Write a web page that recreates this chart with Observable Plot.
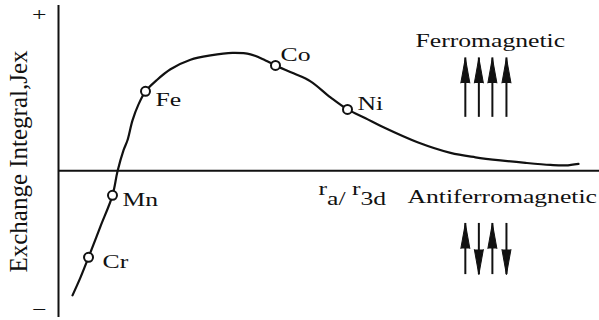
<!DOCTYPE html>
<html><head><meta charset="utf-8">
<script src="https://cdn.jsdelivr.net/npm/d3@7"></script>
<script src="https://cdn.jsdelivr.net/npm/@observablehq/plot@0.6"></script>
<style>body{margin:0;background:#fff}</style>
</head><body>
<script>
// Bethe–Slater curve (arbitrary units)
const curveX = [0.259, 0.407, 0.555, 0.776, 0.998, 1.091, 1.201, 1.275, 1.368, 1.479, 1.608, 1.811, 2.070, 2.440, 2.810, 3.216, 3.549, 3.826, 4.011, 4.344, 4.658, 5.028, 5.342, 5.675, 6.007, 6.636, 7.246, 7.708, 8.170, 8.632, 9.094, 9.372, 9.612];
const curveY = [-0.798, -0.683, -0.554, -0.356, -0.157, -0.003, 0.131, 0.196, 0.324, 0.426, 0.510, 0.580, 0.651, 0.712, 0.740, 0.756, 0.747, 0.708, 0.676, 0.625, 0.574, 0.471, 0.394, 0.337, 0.279, 0.183, 0.115, 0.087, 0.067, 0.051, 0.038, 0.035, 0.045];

const elements = ["Cr", "Mn", "Fe", "Co", "Ni"];
const elementX = [0.555, 0.998, 1.608, 4.011, 5.342];
const elementY = [-0.554, -0.157, 0.510, 0.676, 0.394];

const spinSiteX = [7.52, 7.77, 8.02, 8.28];
const ferroSpins = [1, 1, 1, 1];
const antiSpins = [1, -1, 1, -1];
const ferroSpan = [0.343, 0.724];
const antiSpan = [-0.665, -0.337];

const yTickValues = [1, -0.894];
const yTickLabels = ["+", "−"];
const yLabel = "Exchange Integral,Jex";
const ratioLabel = "ra/ r3d";
const ratioPos = [4.806, -0.157];
const regimeLabels = ["Ferromagnetic", "Antiferromagnetic"];
const regimeX = [6.599, 6.451];
const regimeY = [0.830, -0.170];

const ink = "#111";
const font = "'Liberation Serif', 'Times New Roman', serif";
const stretch = 1.35;

const curve = curveX.map((x, i) => ({x, y: curveY[i]}));
const points = elements.map((name, i) => ({name, x: elementX[i], y: elementY[i]}));
const arrows = [
  ...spinSiteX.map((x, i) => ({x, spin: ferroSpins[i], lo: ferroSpan[0], hi: ferroSpan[1]})),
  ...spinSiteX.map((x, i) => ({x, spin: antiSpins[i], lo: antiSpan[0], hi: antiSpan[1]}))
];
const regimes = regimeLabels.map((t, i) => ({t, x: regimeX[i], y: regimeY[i]}));

const labelOffsets = {Cr: [14, 5], Mn: [10, 5], Fe: [10, 9], Co: [5, -10], Ni: [10, -5]};

const plot = Plot.plot({
  width: 599,
  height: 320,
  marginLeft: 58,
  marginRight: 0,
  marginTop: 5,
  marginBottom: 3,
  style: {fontFamily: font, color: ink, background: "#fff"},
  x: {domain: [0, 10], axis: null},
  y: {domain: [-0.94, 1.06], axis: null},
  marks: [
    Plot.ruleY([0], {stroke: ink, strokeWidth: 2}),
    Plot.ruleX([0], {stroke: ink, strokeWidth: 2}),
    Plot.axisY(yTickValues, {
      tickSize: 0, tickPadding: 12, fontSize: 19, label: null,
      tickFormat: (d) => yTickLabels[yTickValues.indexOf(d)]
    }),
    Plot.text([yLabel], {frameAnchor: "left", dx: -40, rotate: -90, fontSize: 25, textAnchor: "middle", lineAnchor: "middle", fill: ink}),
    Plot.line(curve, {x: "x", y: "y", curve: "catmull-rom", stroke: ink, strokeWidth: 2.2}),
    Plot.dot(points, {x: "x", y: "y", r: 4.5, fill: "#fff", stroke: ink, strokeWidth: 2}),
    ...points.map((p) => Plot.text([p], {
      x: "x", y: "y", text: "name", textAnchor: "start", lineAnchor: "middle",
      dx: labelOffsets[p.name][0], dy: labelOffsets[p.name][1], fontSize: 19, fill: ink
    })),
    Plot.ruleX(arrows, {x: "x", y1: "lo", y2: (d) => d.hi, stroke: ink, strokeWidth: 2}),
    Plot.vector(arrows, {
      x: "x", y: (d) => d.spin > 0 ? d.hi : d.lo, rotate: (d) => d.spin > 0 ? 0 : 180,
      anchor: "end", shape: "spike", length: 25, r: 4.5, fill: ink, stroke: ink, strokeWidth: 1
    }),
    Plot.text(regimes, {x: "x", y: "y", text: "t", textAnchor: "start", lineAnchor: "middle", fontSize: 19, fill: ink}),
    Plot.text([ratioLabel], {x: () => ratioPos[0], y: () => ratioPos[1], textAnchor: "start", lineAnchor: "bottom", fontSize: 19, fill: ink})
  ]
});
document.body.append(plot);

// r_a / r_3d with subscripts
d3.select(plot).selectAll("text").each(function () {
  if (this.textContent === ratioLabel) {
    const t = d3.select(this).text(null);
    t.append("tspan").text("r");
    t.append("tspan").attr("dy", 10).text("a/");
    t.append("tspan").attr("dy", -10).text(" r");
    t.append("tspan").attr("dy", 10).text("3d");
  }
});
// horizontally stretched lettering of the original figure
d3.select(plot).selectAll("text").each(function () {
  if (this.textContent === yLabel) return;
  const L = this.getComputedTextLength();
  if (L > 0) {
    this.setAttribute("textLength", (L * stretch).toFixed(1));
    this.setAttribute("lengthAdjust", "spacingAndGlyphs");
  }
});
</script>
</body></html>
